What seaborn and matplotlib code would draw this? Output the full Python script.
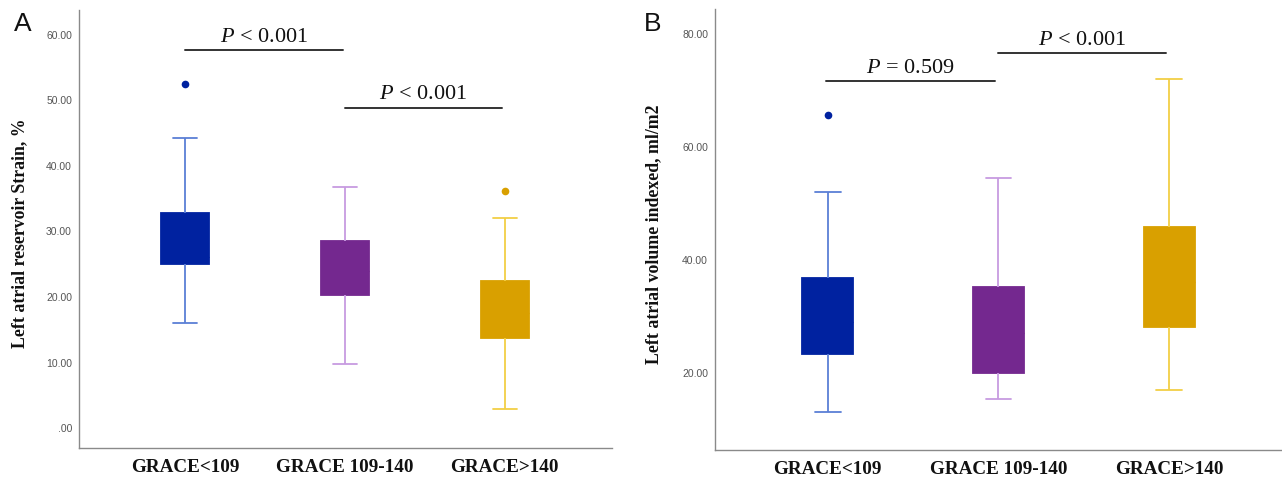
import matplotlib
matplotlib.use("Agg")
import matplotlib.pyplot as plt
import seaborn as sns
import pandas as pd
from matplotlib.ticker import FuncFormatter, FixedLocator

groups = ["GRACE<109", "GRACE 109-140", "GRACE>140"]
box_colors = ["#0022a0", "#74288f", "#d9a000"]
line_colors = ["#5b7fd6", "#c79be0", "#f2cf45"]

# five-number summaries: lower whisker, Q1, median, Q3, upper whisker
strain_stats = [
    [16.0, 25.0, 26.1, 32.8, 44.3],
    [9.7, 20.3, 24.0, 28.5, 36.8],
    [2.9, 13.8, 17.5, 22.4, 32.1],
]
strain_out_grp = ["GRACE<109", "GRACE>140"]
strain_out_val = [52.5, 36.2]

lavi_stats = [
    [13.0, 23.3, 29.0, 36.7, 52.0],
    [15.3, 20.0, 27.0, 35.2, 54.5],
    [16.9, 28.1, 36.0, 45.7, 71.9],
]
lavi_out_grp = ["GRACE<109"]
lavi_out_val = [65.6]

# p-value brackets: (from group, to group, height, label)
strain_p = [(0, 0.99, 57.7, r"$P$ < 0.001"), (1.0, 1.98, 48.9, r"$P$ < 0.001")]
lavi_p = [(-0.01, 0.98, 71.6, r"$P$ = 0.509"), (1.0, 1.98, 76.6, r"$P$ < 0.001")]

sns.set_style("white")
plt.rcParams["font.family"] = ["Liberation Serif", "DejaVu Serif"]
plt.rcParams["mathtext.fontset"] = "custom"
plt.rcParams["mathtext.it"] = "Liberation Serif:italic"
plt.rcParams["mathtext.rm"] = "Liberation Serif"

fig = plt.figure(figsize=(12.82, 4.79), dpi=100)
ax1 = fig.add_axes([0.0616, 0.0647, 0.4158, 0.9144])
ax2 = fig.add_axes([0.5577, 0.0605, 0.4423, 0.9200])


def draw_panel(ax, stats, out_grp, out_val, pvals, ylabel, ylim, xlim, yticks, label_x):
    for i, g in enumerate(groups):
        df = pd.DataFrame({"group": [g] * len(stats[i]), "value": stats[i]})
        sns.boxplot(data=df, x="group", y="value", order=groups, color=box_colors[i],
                    saturation=1, width=0.3, whis=(0, 100), showfliers=False,
                    linecolor=line_colors[i], linewidth=1.3,
                    boxprops=dict(edgecolor=box_colors[i]),
                    medianprops=dict(color=box_colors[i], linewidth=0.8), ax=ax)
    pal = {g: c for g, c in zip(groups, box_colors)}
    sns.stripplot(x=out_grp, y=out_val, order=groups, hue=out_grp, palette=pal,
                  jitter=False, size=5.5, legend=False, ax=ax)

    for x1, x2, y, label in pvals:
        ax.plot([x1, x2], [y, y], color="#333333", lw=1.4)
        ax.annotate(label, xy=((x1 + x2) / 2, y), xytext=(0, 6), textcoords="offset points",
                    ha="center", va="baseline", fontsize=16, color="#111111")

    ax.set_xlim(*xlim)
    ax.set_ylim(*ylim)
    ax.yaxis.set_major_locator(FixedLocator(yticks))
    ax.yaxis.set_major_formatter(FuncFormatter(lambda v, _: ".00" if v == 0 else f"{v:.2f}"))
    ax.tick_params(axis="y", length=0, pad=5, labelsize=7.5, labelcolor="#555555")
    for lab in ax.get_yticklabels():
        lab.set_family("Liberation Sans")
    ax.tick_params(axis="x", length=0, pad=8, labelsize=13.8, labelcolor="#111111")
    for lab in ax.get_xticklabels():
        lab.set_fontweight("bold")
    ax.set_xlabel("")
    ax.set_ylabel(ylabel, fontsize=12.8, fontweight="bold", color="#111111")
    ax.yaxis.set_label_coords(label_x, 0.49)
    sns.despine(ax=ax)
    for s in ["left", "bottom"]:
        ax.spines[s].set_color("#8a8a8a")
        ax.spines[s].set_linewidth(1.0)


draw_panel(ax1, strain_stats, strain_out_grp, strain_out_val, strain_p,
           "Left atrial reservoir Strain, %", (-3.05, 63.8), (-0.6625, 2.67),
           [0, 10, 20, 30, 40, 50, 60], -0.095)
draw_panel(ax2, lavi_stats, lavi_out_grp, lavi_out_val, lavi_p,
           "Left atrial volume indexed, ml/m2", (6.3, 84.3), (-0.66, 2.66),
           [20, 40, 60, 80], -0.093)

fig.text(23 / 1282, 1 - 24 / 479, "A", fontsize=19, family="Liberation Sans",
         ha="center", va="center", color="#111111")
fig.text(653 / 1282, 1 - 24 / 479, "B", fontsize=19, family="Liberation Sans",
         ha="center", va="center", color="#111111")

fig.savefig("out.png", dpi=100)
